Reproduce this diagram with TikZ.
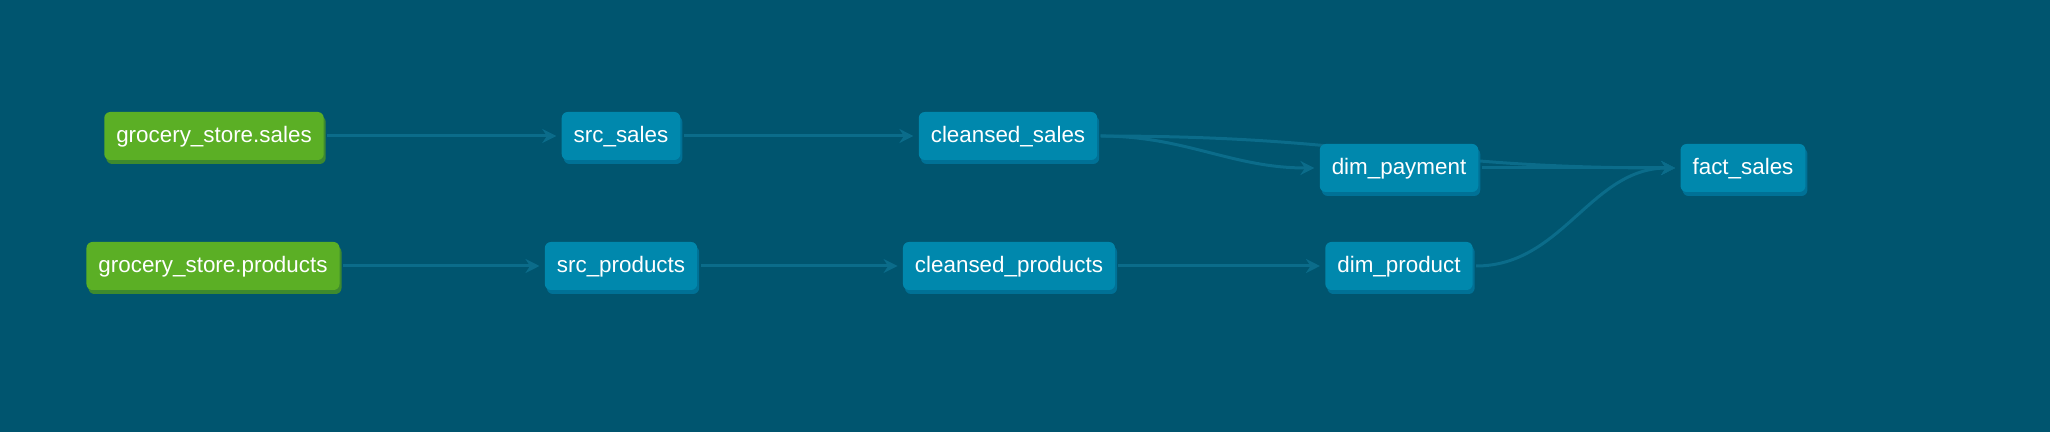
\documentclass[tikz,border=0pt]{standalone}
\usepackage{fontspec}
\setmainfont{Liberation Sans}
\usetikzlibrary{arrows.meta,shadows,backgrounds}
\definecolor{bgblue}{HTML}{00556F}
\definecolor{modelblue}{HTML}{0088AD}
\definecolor{modelshadow}{HTML}{007196}
\definecolor{sourcegreen}{HTML}{5BAF25}
\definecolor{sourceshadow}{HTML}{3E8A2E}
\definecolor{edgeblue}{HTML}{0B6C8A}
\tikzset{
  box/.style={rounded corners=3pt, minimum height=24pt, inner xsep=6pt,
    inner ysep=0pt, text height=9pt, text depth=2pt, text=white,
    font=\fontsize{11.2}{13}\selectfont},
  model/.style={box, fill=modelblue,
    drop shadow={shadow xshift=1pt, shadow yshift=-2pt, fill=modelshadow, opacity=1}},
  source/.style={box, fill=sourcegreen,
    drop shadow={shadow xshift=1pt, shadow yshift=-2pt, fill=sourceshadow, opacity=1}},
  edge/.style={draw=edgeblue, line width=1.5pt,
    -{Stealth[length=7pt,width=7pt]}, shorten >=2.5pt, shorten <=1.5pt}
}
\begin{document}
\begin{tikzpicture}[x=0.5pt,y=-0.5pt]
\useasboundingbox (0,0) rectangle (2050,432);
% sources
\node[source] (gss) at (214,136) {grocery\_store.sales};
\node[source] (gsp) at (213,266) {grocery\_store.products};
% staging
\node[model] (src_sales) at (621,136) {src\_sales};
\node[model] (src_products) at (621,266) {src\_products};
\node[model] (cleansed_sales) at (1008,136) {cleansed\_sales};
\node[model] (cleansed_products) at (1009,266) {cleansed\_products};
% marts
\node[model] (dim_payment) at (1399,168) {dim\_payment};
\node[model] (dim_product) at (1399,266) {dim\_product};
\node[model] (fact_sales) at (1743,168) {fact\_sales};
% background and edges behind the nodes
\begin{scope}[on background layer]
\fill[bgblue] (0,0) rectangle (2050,432);
\draw[edge] (gss) -- (src_sales);
\draw[edge] (src_sales) -- (cleansed_sales);
\draw[edge] (gsp) -- (src_products);
\draw[edge] (src_products) -- (cleansed_products);
\draw[edge] (cleansed_products) -- (dim_product);
\draw[edge] (cleansed_sales.east) to[out=0,in=180] (dim_payment.west);
\draw[edge] (cleansed_sales.east) to[out=0,in=180,looseness=1.2] (fact_sales.west);
\draw[edge] (dim_payment) -- (fact_sales);
\draw[edge] (dim_product.east) to[out=0,in=180] (fact_sales.west);
\end{scope}
\end{tikzpicture}
\end{document}
